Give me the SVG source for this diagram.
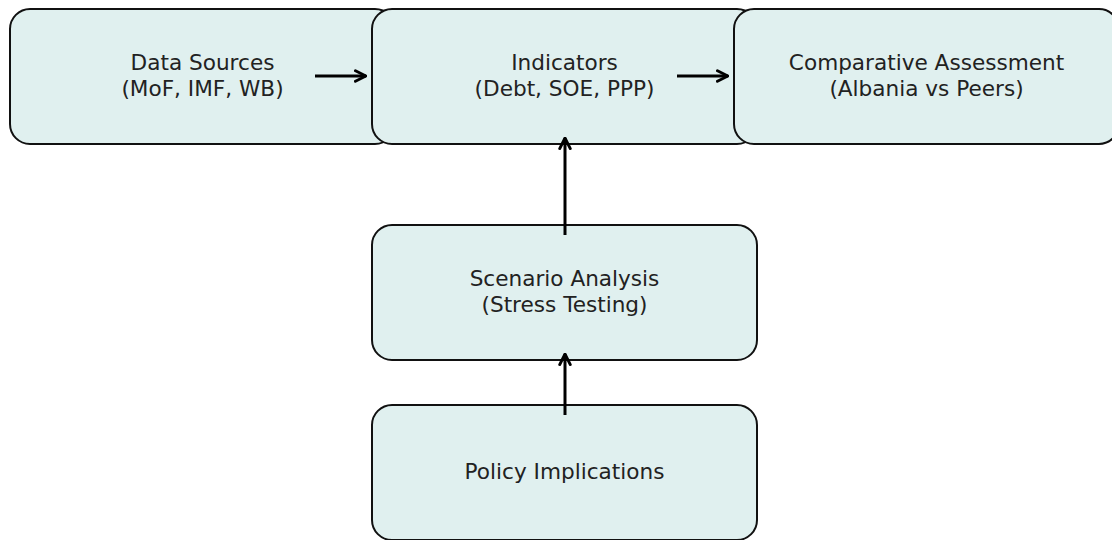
<svg xmlns="http://www.w3.org/2000/svg" width="1112" height="540" viewBox="0 0 1112 540">
<style>
.box{fill:#e0f0ef;stroke:#111;stroke-width:2}
.t{font-family:"DejaVu Sans",sans-serif;font-size:21.6px;fill:#222;text-anchor:middle}
.c{stroke:#000;stroke-width:3;fill:none}
</style>
<defs>
<marker id="ah" viewBox="0 0 10 10" refX="9" refY="5" markerWidth="4.4" markerHeight="4.4" orient="auto" markerUnits="strokeWidth">
<path d="M1,1 L9,5 L1,9" fill="none" stroke="#000" stroke-width="2.2" stroke-linecap="round" stroke-linejoin="miter"/>
</marker>
</defs>
<rect width="1112" height="540" fill="#fff"/>
<g id="data-sources">
<rect class="box" x="10" y="9" width="385" height="135" rx="20"/>
<text class="t" x="202.5" y="70">Data Sources</text>
<text class="t" x="202.5" y="96">(MoF, IMF, WB)</text>
</g>
<g id="indicators">
<rect class="box" x="372" y="9" width="385" height="135" rx="20"/>
<text class="t" x="564.5" y="70">Indicators</text>
<text class="t" x="564.5" y="96">(Debt, SOE, PPP)</text>
</g>
<g id="comparative">
<rect class="box" x="734" y="9" width="385" height="135" rx="20"/>
<text class="t" x="926.5" y="70">Comparative Assessment</text>
<text class="t" x="926.5" y="96">(Albania vs Peers)</text>
</g>
<g id="scenario">
<rect class="box" x="372" y="225" width="385" height="135" rx="20"/>
<text class="t" x="564.5" y="286">Scenario Analysis</text>
<text class="t" x="564.5" y="312">(Stress Testing)</text>
</g>
<g id="policy">
<rect class="box" x="372" y="405" width="385" height="135" rx="20"/>
<text class="t" x="564.5" y="479">Policy Implications</text>
</g>
<g id="connectors">
<line class="c" x1="315" y1="76" x2="366" y2="76" marker-end="url(#ah)"/>
<line class="c" x1="677" y1="76" x2="728" y2="76" marker-end="url(#ah)"/>
<line class="c" x1="565" y1="235" x2="565" y2="138" marker-end="url(#ah)"/>
<line class="c" x1="565" y1="415" x2="565" y2="354" marker-end="url(#ah)"/>
</g>
</svg>
